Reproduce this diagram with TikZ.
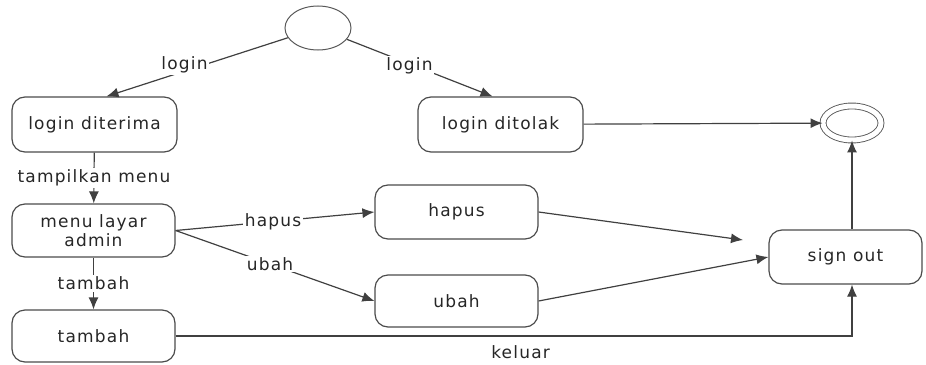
\documentclass[tikz,border=0pt]{standalone}
\usepackage{fontspec}
\setmainfont{DejaVu Sans}
\newfontfamily\lblfont[LetterSpace=7]{DejaVu Sans}
\usetikzlibrary{shapes.geometric,arrows.meta,positioning,calc}
\begin{document}
\begin{tikzpicture}[x=1pt,y=-1pt,
  every node/.style={font=\lblfont\fontsize{17}{19}\selectfont, text=black!85},
  statebox/.style={draw=black!70, line width=1.2pt, rounded corners=13pt, inner sep=0pt},
  arr/.style={draw=black!75, line width=1.2pt, -{Latex[length=12pt,width=10pt]}},
  lbl/.style={fill=white, inner sep=1.5pt},
]
\useasboundingbox (0,0) rectangle (926,364);
% initial
\node[ellipse, draw=black!65, line width=1pt, minimum width=66pt, minimum height=44pt, inner sep=0pt] (start) at (318,28) {};
% states
\node[statebox, minimum width=165pt, minimum height=55pt] (diterima) at (94.5,124.5) {login diterima};
\node[statebox, minimum width=165pt, minimum height=55pt] (ditolak) at (500.5,124.5) {login ditolak};
\node[statebox, minimum width=163pt, minimum height=53pt, align=center] (menu) at (93.5,230.5) {menu layar\\admin};
\node[statebox, minimum width=163pt, minimum height=52pt] (tambah) at (93.5,336) {tambah};
\node[statebox, minimum width=163pt, minimum height=54pt] (hapus) at (456.5,212) {hapus};
\node[statebox, minimum width=163pt, minimum height=52pt] (ubah) at (456.5,301) {ubah};
\node[statebox, minimum width=153pt, minimum height=54pt] (signout) at (845.5,257) {sign out};
% final
\node[ellipse, draw=black!65, line width=0.9pt, double, double distance=5pt, minimum width=58pt, minimum height=34pt, inner sep=0pt] (final) at (852,123) {};
\coordinate (hapusend) at (743,240);
% connectors
\draw[arr] (start) -- node[lbl, pos=0.57, yshift=6pt] {login} ([xshift=12pt]diterima.north);
\draw[arr] (start) -- node[lbl, pos=0.43, yshift=-2pt] {login} ([xshift=-8pt]ditolak.north);
\draw[arr] (ditolak) -- (final);
\draw[arr] (signout.north -| final) -- (final);
\draw[arr] (diterima) -- node[lbl] {tampilkan menu} (menu);
\draw[arr] (menu) -- node[lbl] {tambah} (tambah);
\draw[arr] (menu.east) -- node[lbl, pos=0.49] {hapus} (hapus.west);
\draw[arr] (menu.east) -- node[lbl, pos=0.475] {ubah} (ubah.west);
\draw[arr] (hapus.east) -- (hapusend);
\draw[arr] (ubah.east) -- (signout.west);
\draw[arr] (tambah.east) -| node[pos=0.255, below=9pt, inner sep=0pt] {keluar} (signout.south -| final);
\end{tikzpicture}
\end{document}
